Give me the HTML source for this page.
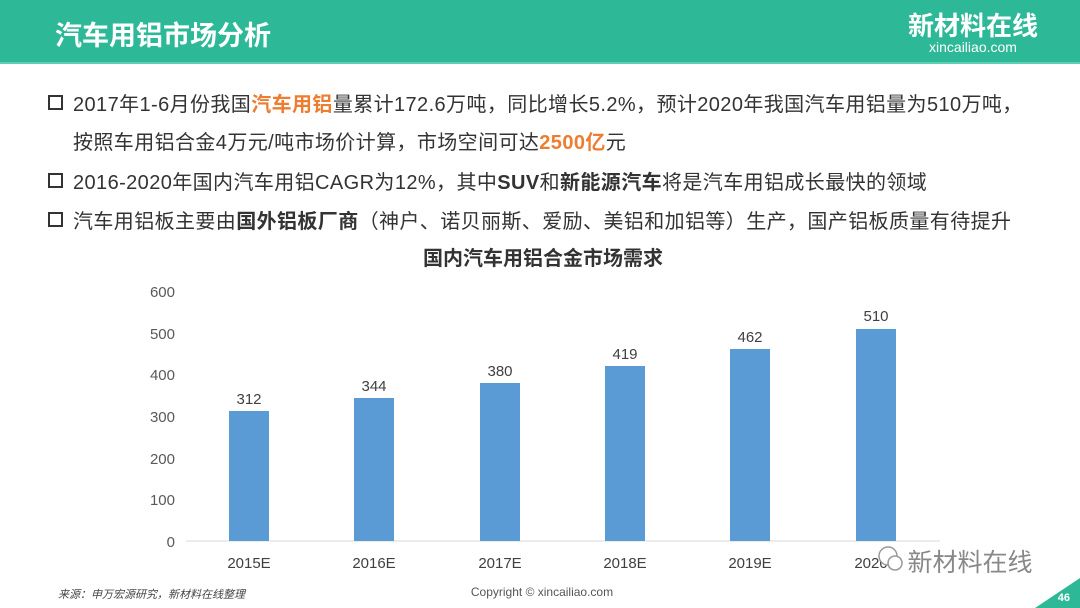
<!DOCTYPE html><html><head><meta charset="utf-8"><style>
body{margin:0;width:1080px;height:608px;overflow:hidden;background:#fff;font-family:"Liberation Sans","Noto Sans CJK SC",sans-serif;position:relative}
.hd{position:absolute;left:0;top:0;width:1080px;height:62px;background:#2db897;border-bottom:2px solid #5fcfb3}
.t{position:absolute;left:55px;top:14px;color:#fff;font-size:27px;font-weight:bold}
.lg{position:absolute;right:42px;top:12px;color:#fff;font-size:26px;font-weight:bold;text-align:center;line-height:28px}
.lg small{display:block;font-size:14px;font-weight:normal;line-height:14px}
.l{position:absolute;left:48px;font-size:20px;letter-spacing:0.4px;color:#333;white-space:nowrap}
.l .b{display:inline-block;width:11px;height:11px;border:2px solid #333;margin-right:10px;vertical-align:1px}
.o{color:#ed7d31;font-weight:bold}
.k{font-weight:bold}
</style></head><body>
<div class="hd"><div class="t">汽车用铝市场分析</div><div class="lg">新材料在线<small>xincailiao.com</small></div></div>
<div class="l" style="top:88px"><span class="b"></span>2017年1-6月份我国<span class="o">汽车用铝</span>量累计172.6万吨，同比增长5.2%，预计2020年我国汽车用铝量为510万吨，</div>
<div class="l" style="top:126px;left:73px">按照车用铝合金4万元/吨市场价计算，市场空间可达<span class="o">2500亿</span>元</div>
<div class="l" style="top:166px"><span class="b"></span>2016-2020年国内汽车用铝CAGR为12%，其中<span class="k">SUV</span>和<span class="k">新能源汽车</span>将是汽车用铝成长最快的领域</div>
<div class="l" style="top:205px"><span class="b"></span>汽车用铝板主要由<span class="k">国外铝板厂商</span>（神户、诺贝丽斯、爱励、美铝和加铝等）生产，国产铝板质量有待提升</div>
<svg width="1080" height="608" style="position:absolute;left:0;top:0" font-family="Liberation Sans,Noto Sans CJK SC,sans-serif">
<text x="543" y="265" text-anchor="middle" font-size="20" font-weight="bold" fill="#333">国内汽车用铝合金市场需求</text>
<g font-size="15" fill="#595959" text-anchor="end">
<text x="175" y="297">600</text><text x="175" y="339">500</text><text x="175" y="380">400</text><text x="175" y="422">300</text><text x="175" y="464">200</text><text x="175" y="505">100</text><text x="175" y="547">0</text></g>
<line x1="186" y1="541" x2="940" y2="541" stroke="#d9d9d9"/>
<g fill="#5b9bd5">
<rect x="229" y="411" width="40" height="130"/><rect x="354" y="398" width="40" height="143"/><rect x="480" y="383" width="40" height="158"/><rect x="605" y="366" width="40" height="175"/><rect x="730" y="349" width="40" height="192"/><rect x="856" y="329" width="40" height="212"/></g>
<g font-size="15" fill="#404040" text-anchor="middle">
<text x="249" y="404">312</text><text x="374" y="391">344</text><text x="500" y="376">380</text><text x="625" y="359">419</text><text x="750" y="342">462</text><text x="876" y="321">510</text>
<text x="249" y="568">2015E</text><text x="374" y="568">2016E</text><text x="500" y="568">2017E</text><text x="625" y="568">2018E</text><text x="750" y="568">2019E</text><text x="876" y="568">2020E</text></g>
<circle cx="888" cy="556" r="9" fill="#fff" stroke="#999" stroke-width="1.5"/>
<circle cx="895" cy="563" r="7" fill="#fff" stroke="#999" stroke-width="1.5"/>
<text x="970" y="571" text-anchor="middle" font-size="25" fill="#888">新材料在线</text>
<text x="58" y="598" font-size="11" font-style="italic" fill="#444">来源：申万宏源研究，新材料在线整理</text>
<text x="542" y="596" text-anchor="middle" font-size="12" fill="#555">Copyright © xincailiao.com</text>
<polygon points="1035,608 1080,608 1080,578" fill="#2db897"/>
<text x="1070" y="601" text-anchor="end" font-size="11" font-weight="bold" fill="#fff">46</text>
</svg>
</body></html>
